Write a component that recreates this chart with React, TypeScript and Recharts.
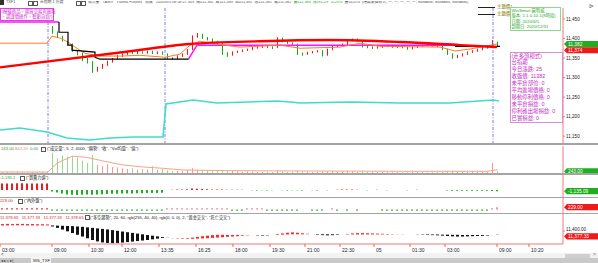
import React from 'react';
import {
	Bar,
	Cell,
	ComposedChart,
	Line,
	ReferenceLine,
	XAxis,
	YAxis,
} from 'recharts';

const FONT = '"Liberation Sans", "Noto Sans CJK TC", sans-serif';
const UP = '#ff1010';
const DOWN = '#12a812';
const AXIS = '#f07878';

// 1-minute bars, index 0..99 (TXF, 6/4 night session -> 6/5 open)
const opens = [
	11452, 11455, 11458, 11456, 11460, 11457, 11459, 11455, 11452, 11449,
	11430, 11415, 11405, 11392, 11385, 11368, 11362, 11348, 11340, 11318,
	11325, 11332, 11340, 11348, 11355, 11360, 11365, 11362, 11366, 11363,
	11367, 11362, 11365, 11360, 11350, 11348, 11355, 11360, 11372, 11405,
	11410, 11402, 11398, 11392, 11388, 11362, 11358, 11365, 11367, 11370,
	11372, 11376, 11378, 11380, 11378, 11378, 11400, 11393, 11388, 11385,
	11362, 11360, 11364, 11366, 11368, 11358, 11372, 11380, 11382, 11385,
	11396, 11398, 11394, 11380, 11378, 11376, 11378, 11380, 11382, 11378,
	11380, 11377, 11374, 11378, 11380, 11382, 11383, 11381, 11380, 11372,
	11360, 11352, 11356, 11360, 11365, 11368, 11372, 11376, 11380, 11390,
];
const highs = [
	11458, 11461, 11460, 11462, 11461, 11461, 11460, 11457, 11454, 11451,
	11432, 11418, 11407, 11394, 11387, 11370, 11364, 11350, 11342, 11328,
	11335, 11343, 11350, 11358, 11362, 11368, 11367, 11368, 11367, 11369,
	11369, 11367, 11367, 11362, 11352, 11357, 11362, 11373, 11408, 11414,
	11412, 11404, 11400, 11394, 11390, 11365, 11367, 11369, 11372, 11374,
	11378, 11380, 11382, 11382, 11380, 11403, 11402, 11395, 11390, 11387,
	11364, 11366, 11368, 11370, 11370, 11374, 11382, 11384, 11387, 11398,
	11400, 11400, 11396, 11382, 11380, 11380, 11382, 11384, 11384, 11382,
	11382, 11379, 11380, 11382, 11384, 11385, 11385, 11383, 11382, 11374,
	11362, 11358, 11362, 11367, 11370, 11374, 11378, 11382, 11396, 11392,
];
const lows = [
	11450, 11453, 11454, 11454, 11455, 11455, 11453, 11450, 11447, 11444,
	11412, 11402, 11392, 11382, 11366, 11357, 11342, 11336, 11312, 11315,
	11322, 11330, 11338, 11346, 11353, 11358, 11360, 11360, 11361, 11361,
	11360, 11360, 11358, 11347, 11345, 11346, 11353, 11358, 11370, 11402,
	11399, 11395, 11390, 11386, 11358, 11353, 11356, 11363, 11365, 11368,
	11370, 11374, 11376, 11375, 11373, 11376, 11390, 11386, 11383, 11358,
	11356, 11358, 11362, 11364, 11354, 11356, 11370, 11378, 11380, 11383,
	11393, 11392, 11377, 11375, 11373, 11374, 11376, 11378, 11376, 11376,
	11375, 11371, 11372, 11376, 11378, 11380, 11379, 11378, 11370, 11358,
	11348, 11350, 11354, 11358, 11363, 11366, 11370, 11374, 11378, 11380,
];
const closes = [
	11455, 11458, 11456, 11460, 11457, 11459, 11455, 11452, 11449, 11446,
	11415, 11405, 11395, 11385, 11370, 11360, 11345, 11340, 11318, 11325,
	11332, 11340, 11348, 11355, 11360, 11365, 11362, 11366, 11363, 11367,
	11362, 11365, 11360, 11350, 11348, 11355, 11360, 11370, 11405, 11410,
	11402, 11398, 11392, 11388, 11362, 11358, 11365, 11367, 11370, 11372,
	11376, 11378, 11380, 11378, 11376, 11400, 11393, 11388, 11385, 11362,
	11360, 11364, 11366, 11368, 11358, 11372, 11380, 11382, 11385, 11396,
	11398, 11394, 11380, 11378, 11376, 11378, 11380, 11382, 11378, 11380,
	11377, 11374, 11378, 11380, 11382, 11383, 11381, 11380, 11372, 11360,
	11352, 11356, 11360, 11365, 11368, 11372, 11376, 11380, 11390, 11382,
];
const volumes = [
	120, 150, 100, 180, 130, 90, 160, 110, 140, 200,
	3000, 2200, 2600, 2400, 2500, 2300, 1800, 1500, 2700, 1200,
	1000, 1300, 900, 800, 700, 600, 700, 500, 600, 500,
	1000, 500, 600, 400, 300, 350, 300, 450, 700, 500,
	400, 300, 250, 300, 450, 400, 300, 250, 200, 250,
	200, 150, 200, 180, 150, 400, 300, 200, 150, 350,
	250, 200, 150, 200, 300, 250, 300, 200, 250, 350,
	300, 250, 350, 200, 150, 120, 150, 100, 120, 100,
	120, 100, 150, 120, 100, 80, 100, 120, 150, 300,
	350, 250, 200, 150, 200, 150, 150, 200, 1500, 243,
];
// 買賣力道
const forceVals = [
	6500, 6600, 6600, 6700, 6700, 6600, 6600, 6500, 6500, 6400,
	-1500, -2500, -3500, -4500, -4800, -5000, -4800, -4600, -4800, -4500,
	-4300, -4000, -3800, -3800, -3600, -3500, -3400, -3300, -3200, -3100,
	-3000, -2900, -2800, 0, 300, 400, 500, 800, 1500, 1200,
	900, 700, 600, 500, 400, 300, 300, 200, 200, 0,
	-300, -400, -300, -400, -300, 0, -300, -400, -300, -300,
	-400, 0, -300, -400, 0, -300, 0, 300, 400, 500,
	400, 300, 0, -300, 0, 300, 0, -300, 0, 0,
	0, -300, 0, 300, 0, 0, 0, 0, 0, -500,
	-700, -800, -800, -800, -800, -700, -700, -700, -1000, -1135,
];
// 內外盤
const tradeSide = [
	120, 120, 120, 120, 120, 120, 120, 120, 120, 120,
	-120, -120, -120, -120, -120, -120, -120, -120, -120, -120,
	-120, -120, -120, -120, -120, -120, -120, -120, -120, -120,
	-120, -120, -120, 120, 120, 120, 120, 120, 120, 120,
	120, 120, 120, 120, 120, 120, -120, -120, -120, 120,
	120, 120, 120, -120, -120, -120, -120, -120, -120, -120,
	0, 0, -120, -120, -120, 0, 120, -120, 0, -120,
	0, -120, 0, 0, 0, 0, -120, -120, -120, -120,
	-120, -120, -120, -120, -120, -120, -120, -120, -120, -120,
	-120, -120, -120, -120, -120, -120, -120, -120, 120, 229,
];
// 多空趨勢 (20 / 60)
const trendFast = [
	11440, 11441, 11440, 11441, 11441, 11440, 11440, 11439, 11439, 11438,
	11426, 11418, 11408, 11398, 11388, 11378, 11368, 11358, 11348, 11340,
	11334, 11331, 11330, 11331, 11333, 11336, 11339, 11342, 11345, 11348,
	11352, 11356, 11360, 11360, 11359, 11358, 11358, 11359, 11362, 11366,
	11370, 11373, 11376, 11378, 11378, 11377, 11377, 11377, 11376, 11376,
	11375, 11374, 11374, 11375, 11377, 11382, 11386, 11390, 11392, 11390,
	11387, 11384, 11381, 11378, 11376, 11375, 11376, 11378, 11380, 11383,
	11386, 11388, 11388, 11387, 11386, 11385, 11384, 11383, 11382, 11381,
	11381, 11380, 11380, 11379, 11378, 11377, 11376, 11375, 11373, 11371,
	11369, 11368, 11368, 11369, 11370, 11371, 11372, 11374, 11377, 11379,
];
const trendSlow = [
	11432, 11432, 11433, 11433, 11433, 11432, 11432, 11432, 11432, 11432,
	11432, 11431, 11430, 11429, 11428, 11426, 11424, 11421, 11418, 11415,
	11412, 11409, 11405, 11401, 11397, 11393, 11389, 11385, 11381, 11377,
	11373, 11369, 11365, 11361, 11358, 11356, 11355, 11355, 11355, 11356,
	11357, 11358, 11360, 11362, 11364, 11366, 11368, 11370, 11372, 11374,
	11375, 11376, 11377, 11377, 11377, 11378, 11379, 11380, 11381, 11381,
	11381, 11381, 11381, 11381, 11381, 11381, 11381, 11381, 11380, 11380,
	11380, 11380, 11380, 11380, 11380, 11380, 11380, 11380, 11380, 11380,
	11380, 11380, 11380, 11380, 11380, 11380, 11380, 11380, 11379, 11379,
	11378, 11378, 11377, 11377, 11377, 11377, 11377, 11377, 11377, 11377,
];

// overlay lines on the price panel: [bar index, value]
const maLine = [
	[-0.5, 11388], [8.9, 11388], [9.9, 11406], [11.5, 11401], [13.1, 11391],
	[14.5, 11378], [16.5, 11362], [19.5, 11355], [23.5, 11355], [27.5, 11357],
	[32.5, 11352], [35.5, 11360], [37.5, 11383], [39.5, 11393], [42.5, 11386],
	[47.5, 11378], [55.5, 11383], [59.5, 11375], [67.5, 11378], [71.5, 11388],
	[75.5, 11380], [87.5, 11378], [90.5, 11368], [93.5, 11373], [98.9, 11386],
];
const longLine = [
	[-0.5, 11326], [23.5, 11364], [37.5, 11386], [51.5, 11393], [65.5, 11396],
	[79.5, 11391], [91.5, 11383], [98.9, 11378],
];
const stopLineA = [[-0.5, 11442], [11.3, 11442]];
const stopLineB = [[37.1, 11345], [38.9, 11383], [90.5, 11383]];
const trailLineA = [
	[11.3, 11442], [11.3, 11416], [13.1, 11416], [13.1, 11383], [13.9, 11383],
	[13.9, 11370], [18.5, 11365], [18.5, 11352], [19.5, 11347], [37.1, 11347],
];
const trailLineB = [[90.5, 11380], [99.5, 11380]];
const cyanLine = [
	[-0.5, 10.3], [3.5, 11.8], [8.9, 8.8], [12.9, 4.4], [17.5, 2.9],
	[21.5, 4.4], [26.1, 5.1], [32.1, 5.1], [32.7, 29.4], [38.1, 32.4],
	[42.9, 30.1], [54.9, 31.6], [57.5, 30.9], [59.5, 30.1], [69.5, 30.9],
	[79.5, 30.1], [89.5, 30.1], [98.1, 32.4], [99.3, 31.6],
];
const volMaLine = [
	[-0.5, 150], [9.1, 150], [11, 1500], [14, 2500], [17, 2300], [20, 1800],
	[24, 1200], [28, 900], [32, 700], [36, 450], [45, 350], [60, 300],
	[80, 250], [97, 250], [99, 500],
];

const timeTicks = [
	-0.5, 9.9, 17.3, 23.9, 31.3, 38.7, 46.1, 53.5, 60.5, 67.5, 74.3, 81.5,
	88.5, 98.9, 105.3,
];
const timeLabels = [
	'03:00', '09:00', '10:30', '12:00', '13:35', '16:25', '18:00', '19:30',
	'21:00', '22:30', '05', '01:30', '03:00', '09:00', '10:20',
];
const sessionBreaks = [9.1, 32.5, 98.1];
const priceTicks = [11150, 11200, 11250, 11300, 11350, 11400, 11450];

const infoLines = [
	'(走多頭模式)',
	'台指期',
	'今日漲跌: 25',
	'收盤價: 11382',
	'未平倉部位: 0',
	'平均進場價格: 0',
	'移動停利價格: 0',
	'未平倉損益: 0',
	'停利確出場損益: 0',
	'已實損益: 0',
];
const versionLines = [
	'WinSmart 贏明威',
	'版本: 1.1.0.10-1(8時段)',
	'日期: 2020/6/5',
	'到期日: 2020/12/31',
];

const W = 598;
const AXIS_W = 35;
const X_DOMAIN: [number, number] = [-0.5, 112.1];
const NO_MARGIN = { top: 0, right: 0, bottom: 0, left: 0 };

const bars = closes.map((c, i) => ({
	i,
	o: opens[i],
	h: highs[i],
	l: lows[i],
	c,
	hl: [lows[i], highs[i]],
	vol: volumes[i],
	force: forceVals[i],
	side: tradeSide[i],
	trend: [
		Math.min(trendFast[i], trendSlow[i]),
		Math.max(trendFast[i], trendSlow[i]),
	],
	bull: trendFast[i] >= trendSlow[i],
}));

const pts = (arr: number[][]) => arr.map(([i, v]) => ({ i, v }));

const Candle = (p: any) => {
	const { x, y, width, height, payload } = p;
	if (!payload) return null;
	const { o, c, h, l } = payload;
	const color = c >= o ? UP : DOWN;
	const top = Math.min(y, y + height);
	const hh = Math.abs(height);
	const k = h === l ? 0 : hh / (h - l);
	const yo = top + (h - o) * k;
	const yc = top + (h - c) * k;
	const cx = x + width / 2;
	return (
		<g>
			<line x1={cx} x2={cx} y1={top} y2={top + hh} stroke={color} strokeWidth={1} />
			<rect
				x={x}
				y={Math.min(yo, yc)}
				width={width}
				height={Math.max(1, Math.abs(yo - yc))}
				fill={color}
			/>
		</g>
	);
};

// price tag on the right axis; dy nudges stacked tags apart like the platform does
const Tag = (p: any) => {
	const vb = p.viewBox;
	if (!vb) return null;
	const x = vb.x + vb.width + 1;
	const y = vb.y + (p.dy || 0);
	return (
		<g>
			<polygon
				points={`${x},${y} ${x + 3},${y - 3.1} ${x + 34},${y - 3.1} ${x + 34},${y + 3.1} ${x + 3},${y + 3.1}`}
				fill={p.bg}
			/>
			<text x={x + 4} y={y + 1.7} fontSize={4.8} fill={p.fg} fontFamily={FONT}>
				{p.text}
			</text>
		</g>
	);
};

const TimeTick = (p: any) => {
	const { x, y, payload } = p;
	const label = timeLabels[timeTicks.indexOf(payload.value)];
	return (
		<g>
			<line x1={x} x2={x} y1={y} y2={y + 3} stroke="#ff5a5a" />
			<text x={x + 2} y={y + 7.5} fontSize={5} fill="#222" fontFamily={FONT}>
				{label}
			</text>
		</g>
	);
};

const Txt = ({ x, y, size = 4.5, color = '#222', children, width }: any) => (
	<div
		style={{
			position: 'absolute',
			left: x,
			top: y,
			fontSize: size,
			lineHeight: 1,
			color,
			fontFamily: FONT,
			whiteSpace: 'nowrap',
			overflow: width ? 'hidden' : undefined,
			width,
		}}
	>
		{children}
	</div>
);

const Sep = ({ y, h = 2 }: { y: number; h?: number }) => (
	<div style={{ position: 'absolute', left: 0, top: y, width: W, height: h, background: '#a4a4a4' }} />
);

const hiddenX = (
	<XAxis type="number" dataKey="i" domain={X_DOMAIN} hide allowDataOverflow />
);

const Icon = ({ x, y }: { x: number; y: number }) => (
	<div
		style={{
			position: 'absolute',
			left: x,
			top: y,
			width: 3,
			height: 3,
			border: '0.7px solid #555',
			borderRadius: 0.5,
		}}
	/>
);

export default function App() {
	return (
		<div
			style={{
				position: 'absolute',
				left: 0,
				top: 0,
				width: W,
				height: 263,
				background: '#fff',
				overflow: 'hidden',
				fontFamily: FONT,
			}}
		>
			{/* price panel */}
			<div style={{ position: 'absolute', left: 0, top: 8 }}>
				<ComposedChart width={W} height={136} data={bars} margin={NO_MARGIN}>
					{hiddenX}
					<YAxis
						orientation="right"
						width={AXIS_W}
						domain={[11130, 11478]}
						ticks={priceTicks}
						allowDataOverflow
						tickFormatter={(v: number) => v.toLocaleString('en-US')}
						tick={{ fontSize: 4.6, fill: '#222', fontFamily: FONT }}
						tickLine={{ stroke: AXIS }}
						tickSize={2}
						tickMargin={1}
						axisLine={{ stroke: AXIS }}
					/>
					<YAxis yAxisId="cy" hide domain={[0, 100]} />
					{sessionBreaks.map((b) => (
						<ReferenceLine
							key={b}
							x={b}
							stroke="#7a7aee"
							strokeDasharray="3 1.5 1 1.5"
							strokeWidth={1}
						/>
					))}
					<Line
						yAxisId="cy"
						data={pts(cyanLine)}
						dataKey="v"
						stroke="#3fdccb"
						strokeWidth={1.6}
						dot={false}
						isAnimationActive={false}
					/>
					<Line data={pts(stopLineA)} dataKey="v" stroke="#ff10ff" strokeWidth={1.5} dot={false} isAnimationActive={false} />
					<Line data={pts(stopLineB)} dataKey="v" stroke="#ff10ff" strokeWidth={1.5} dot={false} isAnimationActive={false} />
					<Line data={pts(maLine)} dataKey="v" stroke="#ff7a2a" strokeWidth={1} dot={false} isAnimationActive={false} />
					<Line data={pts(trailLineA)} dataKey="v" stroke="#000" strokeWidth={1.2} dot={false} isAnimationActive={false} />
					<Line data={pts(trailLineB)} dataKey="v" stroke="#000" strokeWidth={1.2} dot={false} isAnimationActive={false} />
					<Bar dataKey="hl" barSize={3} shape={(p: any) => <Candle {...p} />} isAnimationActive={false} />
					<Line
						data={pts(longLine)}
						dataKey="v"
						type="monotone"
						stroke="#ff0000"
						strokeWidth={2.4}
						dot={false}
						isAnimationActive={false}
					/>
					<ReferenceLine y={11382} strokeOpacity={0} label={<Tag text="11,382" bg="#1fae1f" fg="#fff" dy={-1.4} />} />
					<ReferenceLine y={11374} strokeOpacity={0} label={<Tag text="11,374" bg="#f01818" fg="#fff" dy={1.6} />} />
				</ComposedChart>
			</div>

			{/* volume */}
			<div style={{ position: 'absolute', left: 0, top: 146 }}>
				<ComposedChart width={W} height={27} data={bars} margin={NO_MARGIN}>
					{hiddenX}
					<YAxis orientation="right" width={AXIS_W} domain={[0, 4000]} tick={false} tickLine={false} axisLine={{ stroke: AXIS }} />
					<Bar dataKey="vol" barSize={3} isAnimationActive={false}>
						{bars.map((b) => (
							<Cell key={b.i} fill={b.c >= b.o ? UP : DOWN} />
						))}
					</Bar>
					<Line data={pts(volMaLine)} dataKey="v" stroke="#ffa080" strokeWidth={1} dot={false} isAnimationActive={false} />
					<ReferenceLine y={243} strokeOpacity={0} label={<Tag text="243.00" bg="#1fae1f" fg="#fff" />} />
				</ComposedChart>
			</div>

			{/* 買賣力道 */}
			<div style={{ position: 'absolute', left: 0, top: 175 }}>
				<ComposedChart width={W} height={22} data={bars} margin={NO_MARGIN}>
					{hiddenX}
					<YAxis orientation="right" width={AXIS_W} domain={[-7000, 15000]} tick={false} tickLine={false} axisLine={{ stroke: AXIS }} />
					<Bar dataKey="force" barSize={2} isAnimationActive={false}>
						{bars.map((b) => (
							<Cell key={b.i} fill={b.force >= 0 ? '#e42020' : '#22b022'} />
						))}
					</Bar>
					<ReferenceLine y={-1135} strokeOpacity={0} label={<Tag text="-1,135.09" bg="#1fae1f" fg="#fff" />} />
				</ComposedChart>
			</div>

			{/* 內外盤 */}
			<div style={{ position: 'absolute', left: 0, top: 198 }}>
				<ComposedChart width={W} height={15} data={bars} margin={NO_MARGIN}>
					{hiddenX}
					<YAxis orientation="right" width={AXIS_W} domain={[-350, 1150]} tick={false} tickLine={false} axisLine={{ stroke: AXIS }} />
					<Bar dataKey="side" barSize={2} isAnimationActive={false}>
						{bars.map((b) => (
							<Cell key={b.i} fill={b.side >= 0 ? (b.i < 10 ? '#e44040' : '#ff9090') : '#3cbc3c'} />
						))}
					</Bar>
					<ReferenceLine y={229} strokeOpacity={0} label={<Tag text="229.00" bg="#f01818" fg="#fff" />} />
				</ComposedChart>
			</div>

			{/* 多空趨勢 + time axis */}
			<div style={{ position: 'absolute', left: 0, top: 214 }}>
				<ComposedChart width={W} height={39} data={bars} margin={NO_MARGIN}>
					<XAxis
						type="number"
						dataKey="i"
						domain={X_DOMAIN}
						allowDataOverflow
						ticks={timeTicks}
						interval={0}
						height={9}
						tickSize={0}
						tickMargin={0}
						tick={(p: any) => <TimeTick {...p} />}
						axisLine={{ stroke: AXIS }}
					/>
					<YAxis
						orientation="right"
						width={AXIS_W}
						domain={[11325, 11498]}
						ticks={[11400]}
						allowDataOverflow
						tickFormatter={(v: number) => v.toLocaleString('en-US', { minimumFractionDigits: 2 })}
						tick={{ fontSize: 4.6, fill: '#222', fontFamily: FONT, dy: -1.5 }}
						tickLine={{ stroke: AXIS }}
						tickSize={2}
						tickMargin={1}
						axisLine={{ stroke: AXIS }}
					/>
					<Bar dataKey="trend" barSize={3} isAnimationActive={false}>
						{bars.map((b) => (
							<Cell key={b.i} fill={b.bull ? '#ff2828' : '#111'} />
						))}
					</Bar>
					<ReferenceLine y={11377.33} strokeOpacity={0} label={<Tag text="11,377.33" bg="#f01818" fg="#fff" dy={1.5} />} />
				</ComposedChart>
			</div>

			{/* panel separators */}
			<Sep y={143} />
			<Sep y={173} h={1.5} />
			<Sep y={196.5} h={1.5} />
			<Sep y={212.5} h={1.5} />

			{/* top tool bar */}
			<div style={{ position: 'absolute', left: 0, top: 0, width: 4, height: 5, background: '#333' }} />
			<Txt x={6} y={1} size={3.8} color="#555">
				TXF1
			</Txt>
			<Icon x={28} y={1} />
			<Icon x={33} y={1} />
			<Txt x={40} y={1} size={3.8} color="#555">
				台指期 1 分鐘
			</Txt>
			<Icon x={76} y={1} />
			<Icon x={81} y={1} />
			<Txt x={88} y={1} size={3.8} color="#555" width={496}>
				成交量 &nbsp; TAIEX &nbsp; Yuanta Futures &nbsp; 期貨 &nbsp; 2020/6/5 08:58:27.303 &nbsp;開=11,382 &nbsp;高=11,383 &nbsp;低=11,382
				&nbsp;收=11,382 &nbsp;買=11,382 &nbsp;<span style={{ color: '#1aa51a' }}>賣=11,383 &nbsp;漲跌=-29 &nbsp;-0.25%</span> &nbsp;量=4,074 &nbsp;(隱藏數據模式, 一, 一, 一, 一, 一, Sandbox, Sandbox, Sandbox)
			</Txt>
			<Txt x={589} y={3} size={6} color="#333">
				⊳
			</Txt>

			{/* warning note top-left */}
			<div
				style={{
					position: 'absolute',
					left: 0,
					top: 8,
					width: 54,
					height: 13,
					border: '0.8px solid #e040e0',
					background: '#fff',
					boxSizing: 'border-box',
				}}
			/>
			<Txt x={1.5} y={9.5} size={4.4} color="#d020d0">
				(模擬商品，期貨交易有風險
			</Txt>
			<Txt x={1.5} y={15} size={4.4} color="#d020d0">
				，請謹慎操作，盈虧自負!)
			</Txt>

			{/* reference price lines top-right */}
			<div style={{ position: 'absolute', left: 478, top: 6.5, width: 17, height: 1, background: '#222' }} />
			<div style={{ position: 'absolute', left: 478, top: 13.5, width: 17, height: 1, background: '#222' }} />
			<Txt x={497} y={5} size={4.4} color="#8a7a00">
				主題價1
			</Txt>
			<Txt x={497} y={12} size={4.4} color="#8a7a00">
				主題價2
			</Txt>

			{/* version box */}
			<div
				style={{
					position: 'absolute',
					left: 510,
					top: 7,
					width: 51,
					height: 24,
					border: '0.8px solid #8fd68f',
					background: '#fff',
					boxSizing: 'border-box',
				}}
			/>
			{versionLines.map((t, k) => (
				<Txt key={t} x={511.5} y={8.5 + k * 5.6} size={4.3} color="#2aa82a">
					{t}
				</Txt>
			))}

			{/* strategy status box */}
			<div
				style={{
					position: 'absolute',
					left: 510,
					top: 52,
					width: 53,
					height: 71,
					border: '0.8px solid #d68fd6',
					background: '#fff',
					boxSizing: 'border-box',
				}}
			/>
			{infoLines.map((t, k) => (
				<Txt key={t} x={511.5} y={53.5 + k * 6.9} size={5.4} color="#c22ec2">
					{t}
				</Txt>
			))}

			{/* panel headers */}
			<Txt x={1} y={147} size={4.2} color="#1aa51a">
				243.00
			</Txt>
			<Txt x={15} y={147} size={4.2} color="#f08070">
				842.20
			</Txt>
			<Txt x={30} y={147} size={4.2} color="#1aa51a">
				0.00
			</Txt>
			<Icon x={41} y={146.5} />
			<Txt x={47} y={147} size={4.2}>
				("成交量", 5, 2, 4000, "順勢", "收", "Vol均量", "值")
			</Txt>

			<Txt x={0} y={176} size={4.2} color="#1aa51a">
				-1,135.1
			</Txt>
			<Icon x={20} y={175.5} />
			<Txt x={26} y={176} size={4.2}>
				("買賣力道")
			</Txt>

			<Txt x={0} y={199} size={4.2} color="#e02020">
				229.00
			</Txt>
			<Icon x={18} y={198.5} />
			<Txt x={24} y={199} size={4.2}>
				("內外盤")
			</Txt>

			<Txt x={0} y={215.5} size={4.2} color="#e02020">
				11,378.65 &nbsp; 11,377.33 &nbsp; 11,377.33 &nbsp; 11,378.65
			</Txt>
			<Icon x={85} y={215} />
			<Txt x={90} y={215.5} size={4.2}>
				("多空趨勢", 20, 60, rgb(255, 40, 40), rgb(0, 0, 0), 2, "黃金交叉", "死亡交叉")
			</Txt>

			{/* scroll bar and sheet tab */}
			<div style={{ position: 'absolute', left: 0, top: 253, width: W, height: 5, background: '#f2f2f2' }} />
			<Txt x={1} y={253} size={4.5} color="#444">
				&lt;
			</Txt>
			<div style={{ position: 'absolute', left: 565, top: 253.5, width: 25, height: 4, background: '#cfcfcf' }} />
			<Txt x={593} y={253} size={4.5} color="#444">
				&gt;
			</Txt>
			<div style={{ position: 'absolute', left: 0, top: 258, width: W, height: 5, background: '#c9c9c9' }} />
			<Txt x={1} y={258.5} size={4} color="#333">
				◂ ▸ ▹ ▸|
			</Txt>
			<div style={{ position: 'absolute', left: 31, top: 258, width: 20, height: 5, background: '#f4f4f4' }} />
			<Txt x={33} y={258.5} size={4.2} color="#222">
				WS_TXF
			</Txt>
		</div>
	);
}
